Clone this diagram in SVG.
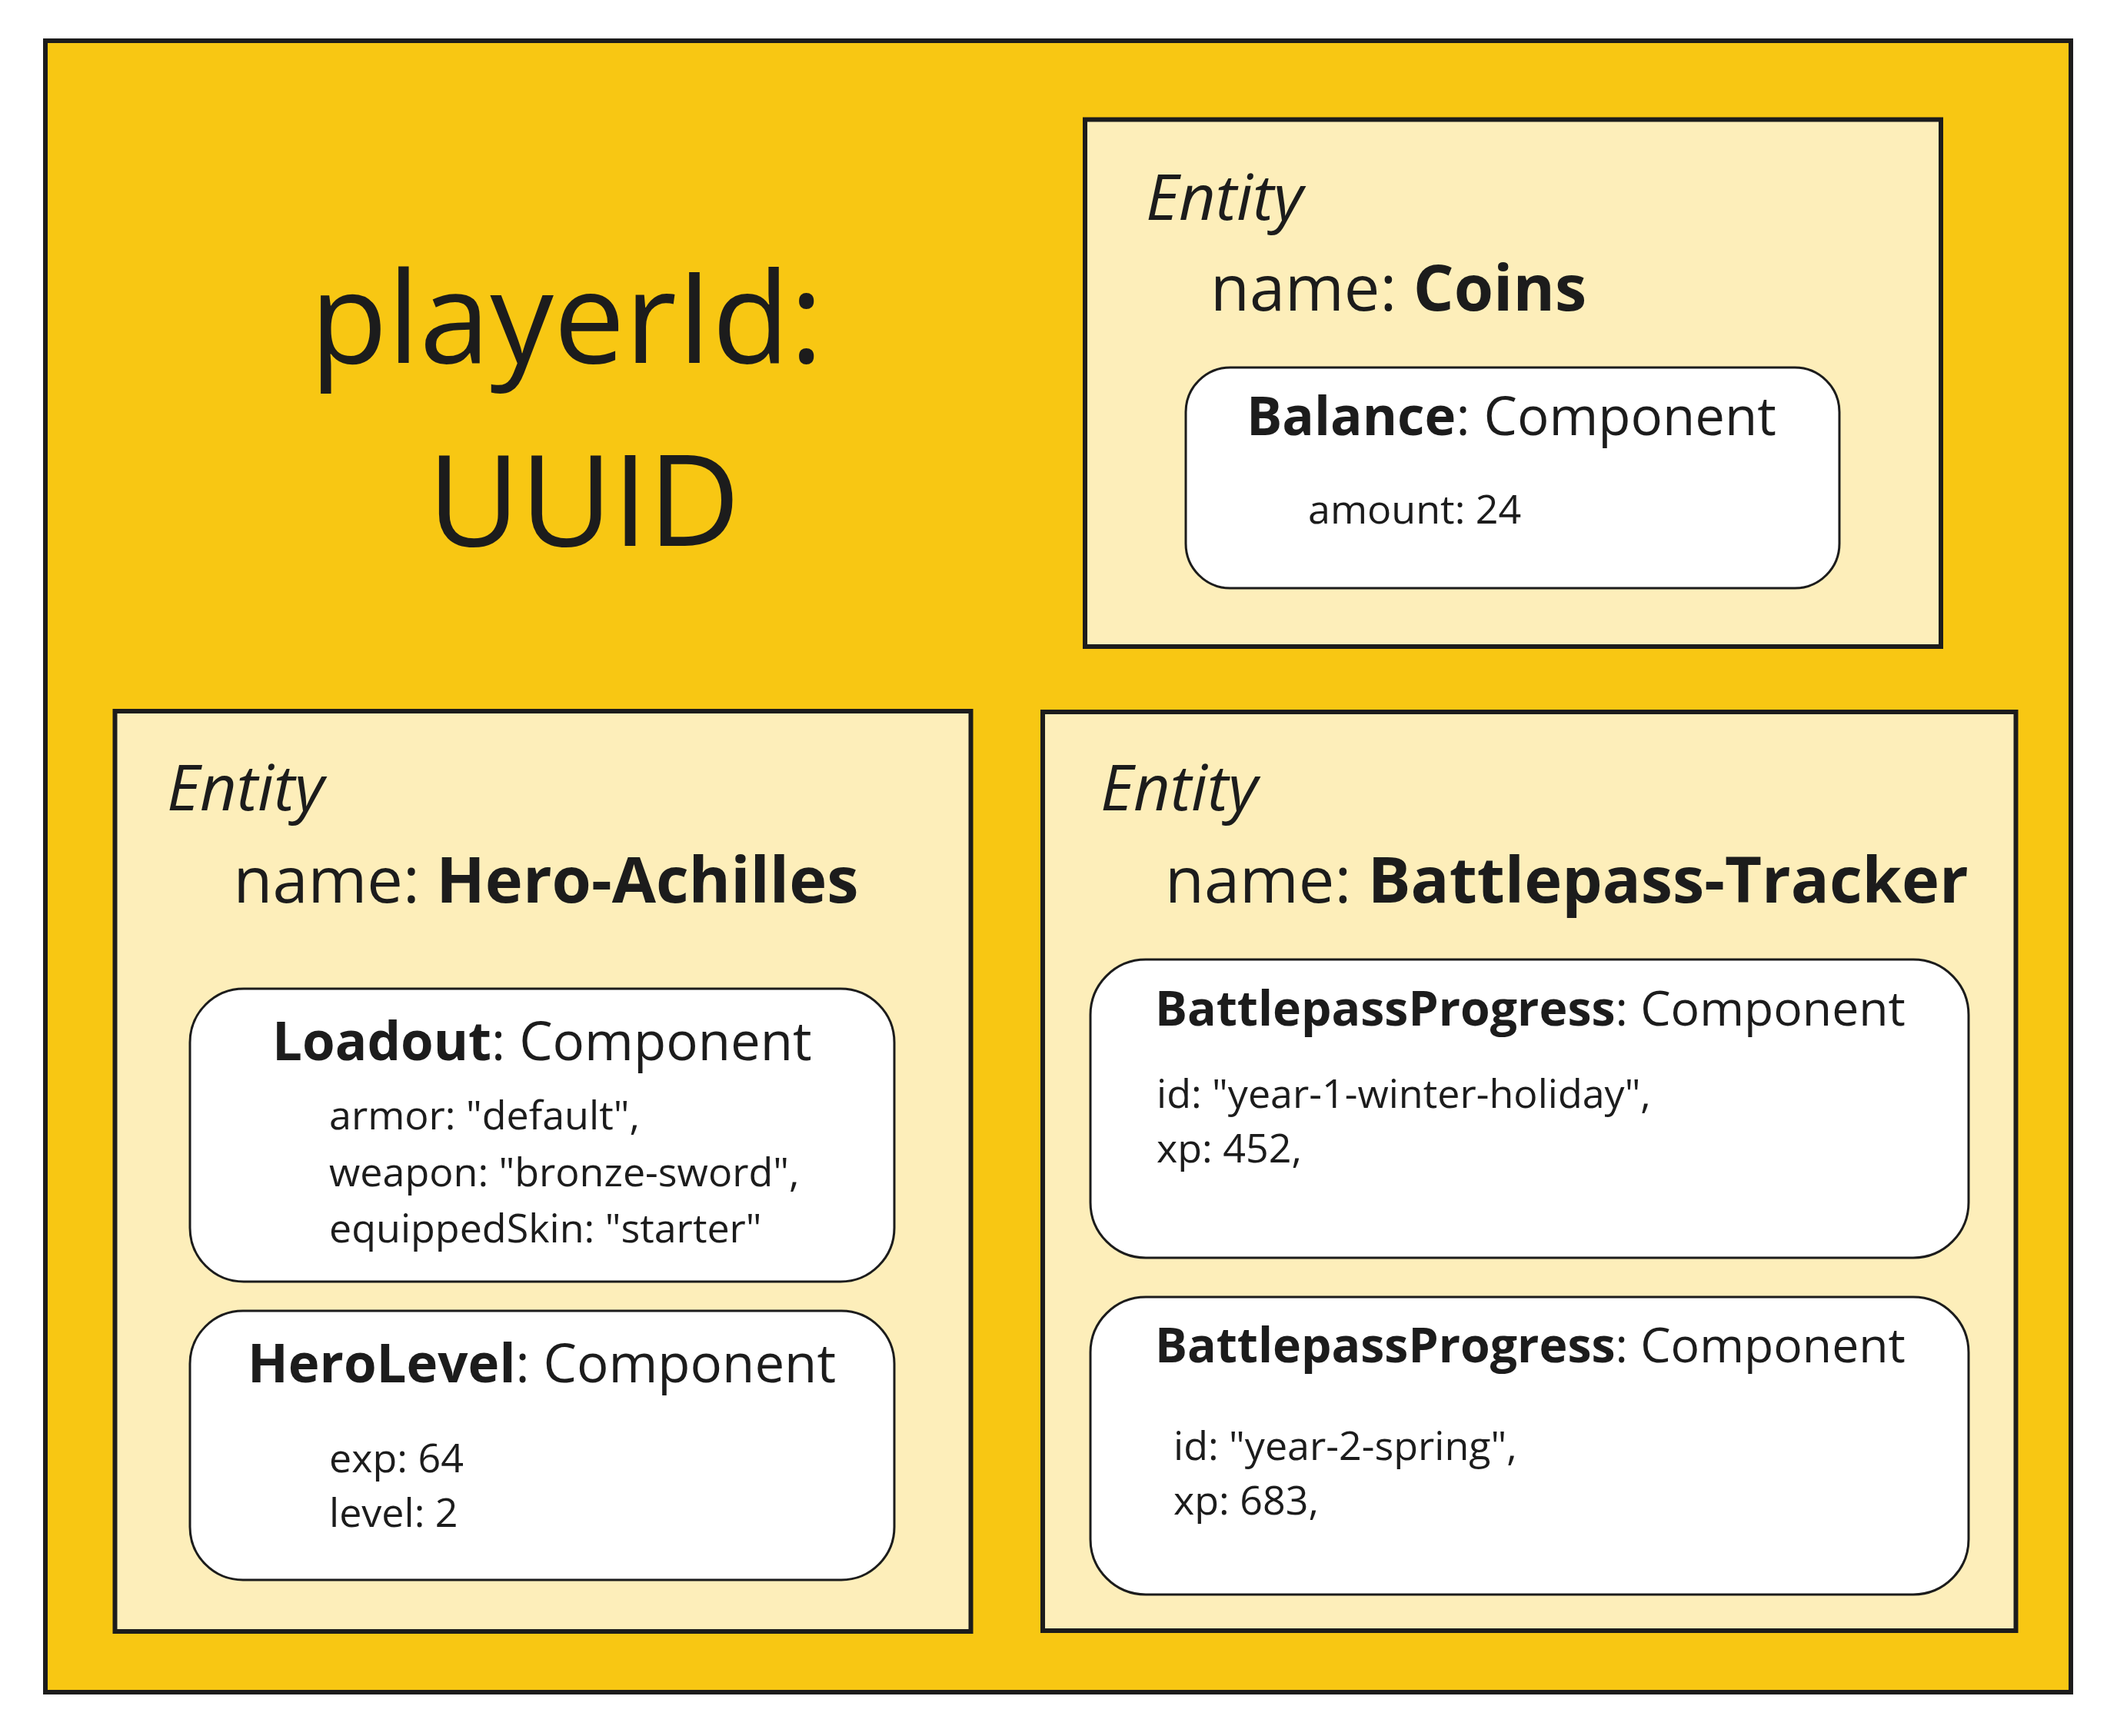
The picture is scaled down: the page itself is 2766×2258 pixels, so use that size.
<svg xmlns="http://www.w3.org/2000/svg" width="2766" height="2258" viewBox="0 0 2766 2258">
<style>
.outer{fill:#F8C713;stroke:#1c1c1c;stroke-width:6}
.entity{fill:#FDEEBA;stroke:#1c1c1c;stroke-width:6}
.comp{fill:#ffffff;stroke:#1c1c1c;stroke-width:3}
text{font-family:"Open Sans","Noto Sans","DejaVu Sans",sans-serif;fill:#1c1c1c}
.big{font-size:165px}
.ent{font-size:83px;font-style:italic}
.name{font-size:83px}
.title{font-size:69px}
.title2{font-size:62.5px}
.body{font-size:52px}
.b{font-weight:bold}
</style>
<rect width="2766" height="2258" fill="#ffffff"/>
<g id="player">
<rect class="outer" x="59" y="53" width="2634" height="2148"/>
<text class="big" x="403" y="472">playerId:</text>
<text class="big" x="556" y="710">UUID</text>
</g>
<g id="entity-coins">
<rect class="entity" x="1411" y="155.5" width="1113" height="685.5"/>
<text class="ent" x="1490" y="286">Entity</text>
<text class="name" x="1574" y="404">name: <tspan class="b">Coins</tspan></text>
</g>
<g id="comp-balance">
<rect class="comp" x="1542" y="478" width="850" height="287" rx="58" ry="58"/>
<text class="title" x="1621" y="566"><tspan class="b">Balance</tspan>: Component</text>
<text class="body" x="1701" y="681">amount: 24</text>
</g>
<g id="entity-hero">
<rect class="entity" x="149.5" y="925" width="1113" height="1197"/>
<text class="ent" x="217" y="1054">Entity</text>
<text class="name" x="303.5" y="1174">name: <tspan class="b">Hero-Achilles</tspan></text>
</g>
<g id="comp-loadout">
<rect class="comp" x="247" y="1286" width="916" height="381" rx="70" ry="70"/>
<text class="title" x="354" y="1379"><tspan class="b">Loadout</tspan>: Component</text>
<text class="body" x="428" y="1469">armor: "default",</text>
<text class="body" x="428" y="1543">weapon: "bronze-sword",</text>
<text class="body" x="428" y="1616">equippedSkin: "starter"</text>
</g>
<g id="comp-herolevel">
<rect class="comp" x="247" y="1705" width="916" height="350" rx="69" ry="69"/>
<text class="title" x="322" y="1798"><tspan class="b">HeroLevel</tspan>: Component</text>
<text class="body" x="428" y="1915">exp: 64</text>
<text class="body" x="428" y="1986">level: 2</text>
</g>
<g id="entity-battlepass">
<rect class="entity" x="1356" y="926" width="1265.5" height="1195"/>
<text class="ent" x="1431" y="1054">Entity</text>
<text class="name" x="1515" y="1174">name: <tspan class="b">Battlepass-Tracker</tspan></text>
</g>
<g id="comp-bp1">
<rect class="comp" x="1418" y="1248" width="1142" height="388" rx="72" ry="72"/>
<text class="title2" x="1502" y="1334"><tspan class="b">BattlepassProgress</tspan>: Component</text>
<text class="body" x="1504" y="1441">id: "year-1-winter-holiday",</text>
<text class="body" x="1504" y="1512">xp: 452,</text>
</g>
<g id="comp-bp2">
<rect class="comp" x="1418" y="1687" width="1142" height="387" rx="72" ry="72"/>
<text class="title2" x="1502" y="1772"><tspan class="b">BattlepassProgress</tspan>: Component</text>
<text class="body" x="1526" y="1899">id: "year-2-spring",</text>
<text class="body" x="1526" y="1970">xp: 683,</text>
</g>
<g id="connectors"></g>
</svg>
